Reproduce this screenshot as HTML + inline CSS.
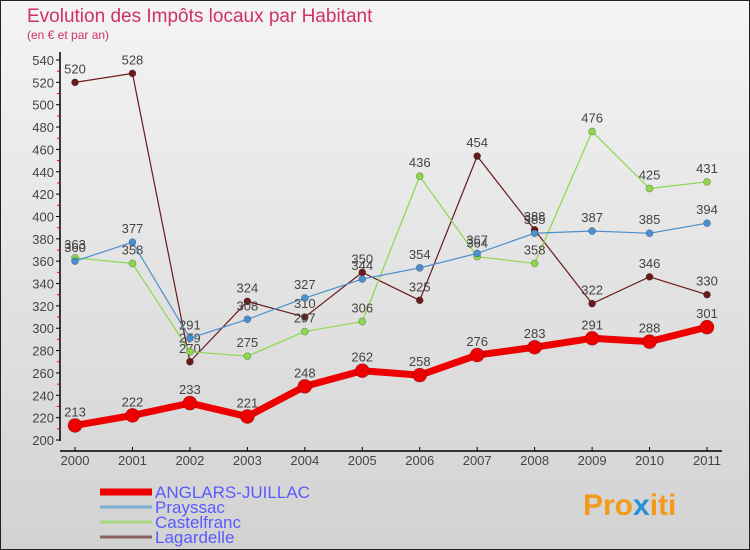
<!DOCTYPE html>
<html><head><meta charset="utf-8"><style>
body{margin:0;width:750px;height:550px;overflow:hidden;font-family:"Liberation Sans",sans-serif}
svg{display:block}
</style></head><body>
<svg id="c" width="750" height="550" xmlns="http://www.w3.org/2000/svg">
<defs><linearGradient id="bg" x1="0" y1="0" x2="0" y2="1"><stop offset="0" stop-color="#f4f4f4"/><stop offset="1" stop-color="#d2d2d2"/></linearGradient></defs>
<rect x="0.5" y="0.5" width="749" height="549" fill="url(#bg)" stroke="#222"/>
<text x="27" y="22" font-size="19" fill="#d0306a">Evolution des Impôts locaux par Habitant</text>
<text x="27" y="39" font-size="12" fill="#d0306a">(en € et par an)</text>
<g id="axes"></g><g id="series"></g><g id="legend"></g>
<text x="583" y="515" font-size="30" font-weight="bold" fill="#f39a1c">Pro<tspan fill="#2a8fd8">x</tspan>iti</text>
</svg>
<script>
const years=[2000,2001,2002,2003,2004,2005,2006,2007,2008,2009,2010,2011];
const anglars=[213,222,233,221,248,262,258,276,283,291,288,301];
const prayssac=[360,377,291,308,327,344,354,367,385,387,385,394];
const castelfranc=[363,358,279,275,297,306,436,364,358,476,425,431];
const lagardelle=[520,528,270,324,310,350,325,454,388,322,346,330];
const yTicks=[200,220,240,260,280,300,320,340,360,380,400,420,440,460,480,500,520,540];
const NS="http://www.w3.org/2000/svg";
const X=i=>75+i*(707-75)/11;
const Y=v=>440-(v-200)*(380/340);
function mk(t,a,p){const e=document.createElementNS(NS,t);for(const k in a)e.setAttribute(k,a[k]);p.appendChild(e);return e;}
const ax=document.getElementById('axes');
let yl=mk('line',{x1:60,y1:52,x2:60,y2:441,stroke:'#000','stroke-width':1.5},ax);


let xl=mk('line',{x1:60,y1:451,x2:722,y2:451,stroke:'#000','stroke-width':1.5},ax);


yTicks.forEach((v,i)=>{
  mk('line',{x1:56,y1:Y(v),x2:60,y2:Y(v),stroke:'#000'},ax);
  if(i<yTicks.length-1)mk('line',{x1:57,y1:Y(v+10),x2:60,y2:Y(v+10),stroke:'#e00'},ax);
  const t=mk('text',{x:54,y:Y(v)+5,'text-anchor':'end','font-size':13,fill:'#444'},ax);t.textContent=v;
  
  
});
years.forEach((yr,i)=>{
  mk('line',{x1:X(i),y1:447,x2:X(i),y2:451,stroke:'#000'},ax);
  const t=mk('text',{x:X(i),y:465,'text-anchor':'middle','font-size':13,fill:'#444'},ax);t.textContent=yr;
  
  
});
const sg=document.getElementById('series');
const series=[
 {d:lagardelle,c:'#6b1a1a',w:1.2,r:3.5,n:'Lagardelle'},
 {d:castelfranc,c:'#8cd84a',w:1.2,r:3.5,n:'Castelfranc'},
 {d:prayssac,c:'#4a90cc',w:1.2,r:3.5,n:'Prayssac'},
 {d:anglars,c:'#ee0000',w:7,r:7,n:'ANGLARS-JUILLAC'}];
series.forEach(s=>{
  const g=mk('g',{},sg);
  
  
  mk('polyline',{points:s.d.map((v,i)=>X(i)+','+Y(v)).join(' '),fill:'none',stroke:s.c,'stroke-width':s.w,'stroke-linejoin':'round'},g);
  s.d.forEach((v,i)=>{
    const p=mk('circle',{cx:X(i),cy:Y(v),r:s.r,fill:s.c,stroke:'rgba(0,0,0,0.3)','stroke-width':0.7},g);
    
    
    const t=mk('text',{x:X(i),y:Y(v)-9,'text-anchor':'middle','font-size':13,fill:'#444'},g);t.textContent=v;
    
    
  });
});
const lg=document.getElementById('legend');
[{n:'ANGLARS-JUILLAC',c:'#ee0000',w:7},{n:'Prayssac',c:'#7aaed0',w:3},{n:'Castelfranc',c:'#a8d880',w:3},{n:'Lagardelle',c:'#8a6060',w:3}].forEach((e,i)=>{
  const y=492+i*15;
  const g=mk('g',{},lg);
  
  
  mk('line',{x1:100,y1:y,x2:152,y2:y,stroke:e.c,'stroke-width':e.w},g);
  const t=mk('text',{x:155,y:y+6,'font-size':17,fill:'#5a5aff'},g);t.textContent=e.n;
});
</script>
</body></html>
